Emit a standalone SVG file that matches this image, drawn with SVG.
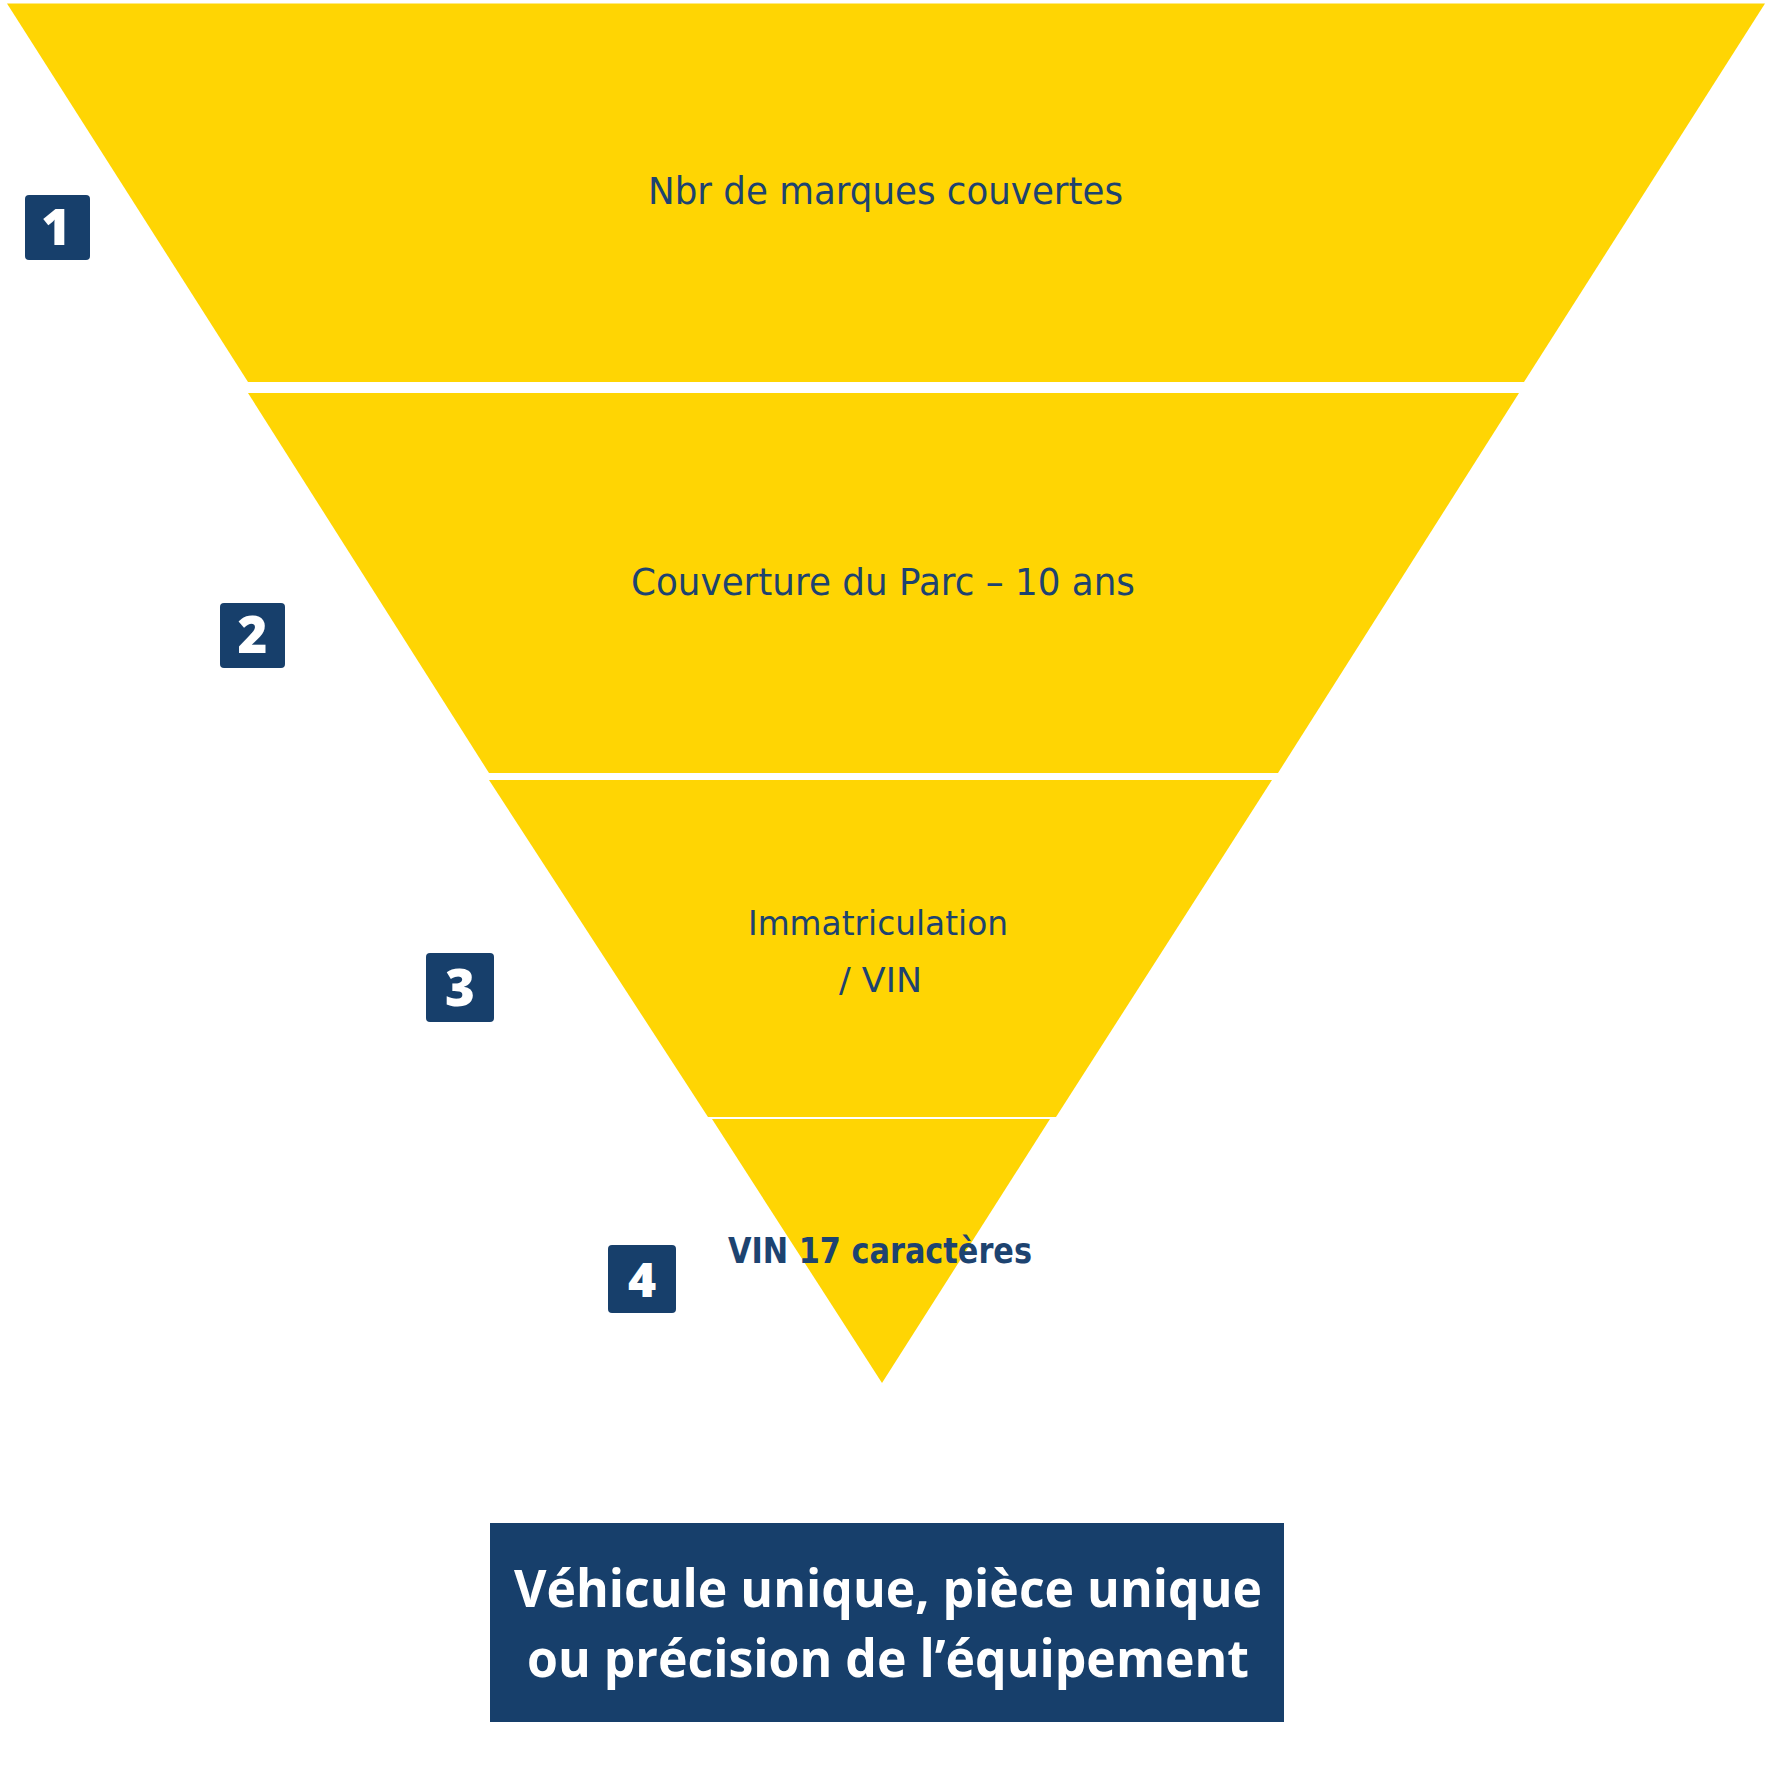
<svg xmlns="http://www.w3.org/2000/svg" width="1772" height="1772" viewBox="0 0 1772 1772">
<style>
.band{fill:#FFD503}
.badge{fill:#173F6B}
.num{font-family:"Open Sans","Noto Sans",sans-serif;font-weight:800;fill:#FFFFFF;text-anchor:middle}
.lbl{font-family:"DejaVu Sans","Noto Sans",sans-serif;fill:#1D4370;text-anchor:middle}
.foot{font-family:"Open Sans","Noto Sans",sans-serif;font-weight:700;fill:#FFFFFF;text-anchor:middle}
</style>
<rect width="1772" height="1772" fill="#FFFFFF"/>
<g id="band1">
<polygon class="band" points="7,3.5 1765,3.5 1524,382 248,382"/>
<text class="lbl" x="885.5" y="204" font-size="37" textLength="475" lengthAdjust="spacingAndGlyphs">Nbr de marques couvertes</text>
</g>
<g id="band2">
<polygon class="band" points="248,393 1519,393 1278,773 489,773"/>
<text class="lbl" x="883" y="595" font-size="38" textLength="504" lengthAdjust="spacingAndGlyphs">Couverture du Parc – 10 ans</text>
</g>
<g id="band3">
<polygon class="band" points="489,780 1272,780 1056,1117 708,1117"/>
<text class="lbl" x="878" y="935" font-size="33" textLength="260" lengthAdjust="spacingAndGlyphs">Immatriculation</text>
<text class="lbl" x="880.5" y="992" font-size="33" textLength="83" lengthAdjust="spacingAndGlyphs">/ VIN</text>
</g>
<g id="band4">
<polygon class="band" points="712,1119 1050,1119 882,1383"/>
<text class="lbl" x="880" y="1263" font-size="36" font-weight="bold" textLength="304" lengthAdjust="spacingAndGlyphs">VIN 17 caractères</text>
</g>
<g id="badge1">
<rect class="badge" x="25" y="195" width="65" height="65" rx="4"/>
<text class="num" x="56" y="245" font-size="50">1</text>
</g>
<g id="badge2">
<rect class="badge" x="220" y="603" width="65" height="65" rx="4"/>
<text class="num" x="252.5" y="653" font-size="51">2</text>
</g>
<g id="badge3">
<rect class="badge" x="426" y="953" width="68" height="69" rx="4"/>
<text class="num" x="460" y="1006" font-size="51">3</text>
</g>
<g id="badge4">
<rect class="badge" x="608" y="1245" width="68" height="68" rx="4"/>
<text class="num" x="642" y="1297" font-size="48">4</text>
</g>
<g id="result">
<rect class="badge" x="490" y="1523" width="794" height="199"/>
<text class="foot" x="888" y="1607" font-size="52" textLength="748" lengthAdjust="spacingAndGlyphs">Véhicule unique, pièce unique</text>
<text class="foot" x="888" y="1677" font-size="52" textLength="722" lengthAdjust="spacingAndGlyphs">ou précision de l’équipement</text>
</g>
<g id="connectors"/>
</svg>
